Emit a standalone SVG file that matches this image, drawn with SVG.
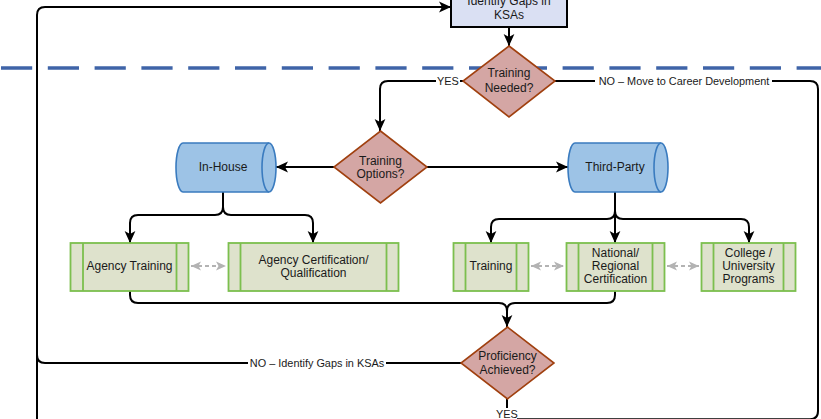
<svg xmlns="http://www.w3.org/2000/svg" width="821" height="419" viewBox="0 0 821 419">
<style>
text{font-family:"Liberation Sans",Arial,sans-serif;fill:#1a1a1a;}
.n{font-size:12px;text-anchor:middle;}
.l{font-size:10.9px;text-anchor:middle;}
.dia{fill:#D4A6A4;stroke:#A0400F;stroke-width:1.6;}
.cyl{fill:#9DC3E6;stroke:#3A7BBF;stroke-width:1.6;}
.box{fill:#DEE2CC;stroke:#7CBF4E;stroke-width:1.8;}
.c{fill:none;stroke:#000;stroke-width:2;}
.ce{fill:none;stroke:#000;stroke-width:2;marker-end:url(#ah);}
.d{fill:none;stroke:#B3B3B3;stroke-width:2;stroke-dasharray:4 3;marker-start:url(#gh);marker-end:url(#gh);}
.lb{fill:#fff;}
</style>
<defs>
<marker id="ah" markerUnits="userSpaceOnUse" markerWidth="12" markerHeight="12" viewBox="0 0 10 10" refX="10" refY="5" orient="auto"><path d="M0,0.5 L10,5 L0,9.5 L2.5,5 z" fill="#000"/></marker>
<marker id="gh" markerUnits="userSpaceOnUse" markerWidth="10" markerHeight="10" viewBox="0 0 10 10" refX="10" refY="5" orient="auto-start-reverse"><path d="M0,0.5 L10,5 L0,9.5 L2.5,5 z" fill="#B3B3B3"/></marker>
</defs>
<path d="M0,68 L821,68" stroke="#3F64A8" stroke-width="3.5" stroke-dasharray="31.2 15.6" stroke-dashoffset="-1" fill="none"/>
<g id="connectors">
<path class="ce" d="M461,363 L45,363 Q37,363 37,355 L37,15 Q37,7 45,7 L451,7"/>
<path class="c" d="M37,355 L37,419"/>
<path class="ce" d="M509,27 L509,46"/>
<path class="ce" d="M463,81 L388,81 Q380,81 380,89 L380,131"/>
<path class="c" d="M555,81 L810,81 Q818,81 818,89 L818,411 Q818,419.2 810,419.2 L517,419.2"/>
<path class="ce" d="M334,167 L276,167"/>
<path class="ce" d="M427,167 L568,167"/>
<path class="ce" d="M223,192 L223,207 Q223,215 215,215 L138,215 Q130,215 130,223 L130,243"/>
<path class="ce" d="M223,207 Q223,215 231,215 L305,215 Q313,215 313,223 L313,243"/>
<path class="ce" d="M615,192 L615,211 Q615,219 607,219 L499,219 Q491,219 491,227 L491,243"/>
<path class="ce" d="M615,192 L615,243"/>
<path class="ce" d="M615,211 Q615,219 623,219 L741,219 Q749,219 749,227 L749,243"/>
<path class="ce" d="M130,291 L130,295 Q130,303 138,303 L499,303 Q507,303 507,311 L507,327"/>
<path class="c" d="M615,291 L615,295 Q615,303 607,303 L515,303 Q507,303 507,311"/>
<path class="c" d="M507,399 L507,408"/>
<path class="d" d="M191,266 L226,266"/>
<path class="d" d="M531,266 L564,266"/>
<path class="d" d="M667,266 L699,266"/>
<rect class="lb" x="436" y="75" width="24" height="12"/>
<text class="l" x="448" y="85">YES</text>
<rect class="lb" x="595" y="75" width="177" height="12"/>
<text class="l" x="684" y="85">NO – Move to Career Development</text>
<rect class="lb" x="248" y="357" width="138" height="12"/>
<text class="l" x="317" y="367">NO – Identify Gaps in KSAs</text>
<text class="l" x="507" y="418">YES</text>
</g>
<g id="identify-gaps">
<rect x="451" y="-10" width="116" height="37" fill="#DAE0F3" stroke="#000" stroke-width="2"/>
<text class="n" x="509" y="5">Identify Gaps in</text>
<text class="n" x="509" y="19">KSAs</text>
</g>
<g id="training-needed">
<path class="dia" d="M509,46 L555,81 L509,117 L463,81 Z"/>
<text class="n" x="509" y="77">Training</text>
<text class="n" x="509" y="92">Needed?</text>
</g>
<g id="training-options">
<path class="dia" d="M380.5,131 L427,167 L380.5,203 L334,167 Z"/>
<text class="n" x="380.5" y="165">Training</text>
<text class="n" x="380.5" y="178">Options?</text>
</g>
<g id="in-house">
<path class="cyl" d="M183,143 L269,143 A7,24.5 0 0 1 269,192 L183,192 A7,24.5 0 0 1 183,143 Z"/>
<path class="cyl" fill="none" d="M269,143 A7,24.5 0 0 0 269,192"/>
<text class="n" x="223" y="171">In-House</text>
</g>
<g id="third-party">
<path class="cyl" d="M575,143 L661,143 A7,24.5 0 0 1 661,192 L575,192 A7,24.5 0 0 1 575,143 Z"/>
<path class="cyl" fill="none" d="M661,143 A7,24.5 0 0 0 661,192"/>
<text class="n" x="615" y="171">Third-Party</text>
</g>
<g id="agency-training">
<rect class="box" x="70.5" y="243" width="118" height="48"/>
<path class="box" d="M83,243 V291 M176.5,243 V291"/>
<text class="n" x="129.5" y="270">Agency Training</text>
</g>
<g id="agency-cert">
<rect class="box" x="228.5" y="243" width="170" height="48"/>
<path class="box" d="M240.5,243 V291 M386.5,243 V291"/>
<text class="n" x="313.5" y="264">Agency Certification/</text>
<text class="n" x="313.5" y="277">Qualification</text>
</g>
<g id="training">
<rect class="box" x="453.5" y="243" width="75" height="48"/>
<path class="box" d="M465.5,243 V291 M516.5,243 V291"/>
<text class="n" x="491" y="270">Training</text>
</g>
<g id="national-cert">
<rect class="box" x="566.5" y="243" width="98" height="48"/>
<path class="box" d="M578.5,243 V291 M652.5,243 V291"/>
<text class="n" x="615.5" y="257">National/</text>
<text class="n" x="615.5" y="270">Regional</text>
<text class="n" x="615.5" y="283">Certification</text>
</g>
<g id="college">
<rect class="box" x="701.5" y="243" width="94" height="48"/>
<path class="box" d="M713.5,243 V291 M783.5,243 V291"/>
<text class="n" x="748.5" y="257">College /</text>
<text class="n" x="748.5" y="270">University</text>
<text class="n" x="748.5" y="283">Programs</text>
</g>
<g id="proficiency">
<path class="dia" d="M507.5,327 L554,363 L507.5,399 L461,363 Z"/>
<text class="n" x="507.5" y="360">Proficiency</text>
<text class="n" x="507.5" y="374">Achieved?</text>
</g>
</svg>
